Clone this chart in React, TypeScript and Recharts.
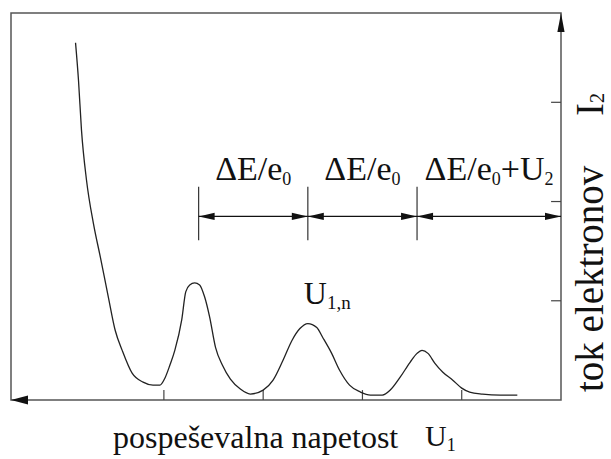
import { LineChart, Line, XAxis, YAxis, ReferenceLine, ReferenceDot, ReferenceArea } from 'recharts';

// accelerating voltage U1 (axis grows to the left) and electron current I2, arbitrary units
const U1 = [0.44, 0.61, 0.79, 0.92, 1.0, 1.09, 1.19, 1.27, 1.34, 1.4, 1.45, 1.52, 1.62, 1.72, 1.8, 1.92,
  2.02, 2.13, 2.23, 2.31, 2.4, 2.46, 2.55, 2.63, 2.71, 2.8, 2.9, 3.0, 3.13, 3.23, 3.33, 3.41,
  3.48, 3.54, 3.59, 3.64, 3.69, 3.74, 3.78, 3.82, 3.89, 3.94, 3.99, 4.04, 4.11, 4.21, 4.32,
  4.42, 4.49, 4.56, 4.64, 4.71, 4.78, 4.83, 4.86, 4.89];
const I2 = [0.05, 0.05, 0.06, 0.08, 0.12, 0.2, 0.28, 0.37, 0.47, 0.5, 0.47, 0.38, 0.23, 0.1, 0.05, 0.05,
  0.08, 0.15, 0.3, 0.47, 0.63, 0.73, 0.77, 0.72, 0.6, 0.4, 0.2, 0.1, 0.06, 0.11, 0.21, 0.35,
  0.53, 0.84, 1.04, 1.16, 1.18, 1.16, 1.09, 0.81, 0.5, 0.35, 0.22, 0.15, 0.15, 0.18, 0.27,
  0.5, 0.7, 1.04, 1.44, 1.78, 2.22, 2.72, 3.22, 3.6];

const data = U1.map((u, i) => ({ u, i2: I2[i] }));

const U1_TICKS = [1, 2, 3, 4];
const I2_TICKS = [1, 2, 3];
const U1_MAX = 5.54;
const I2_MAX = 3.9;
const TICK_LEN = 0.1;

// spacing markers between the maxima
const STEP_MARKS = [3.65, 2.55, 1.45, 0];
const STEP_Y = 1.85;
const STEP_TOP = 2.15;
const STEP_BOTTOM = 1.61;
const STEP_LABELS: string[][] = [
  ['ΔE/e', '0'],
  ['ΔE/e', '0'],
  ['ΔE/e', '0', '+U', '2'],
];
const PEAK_LABEL = ['U', '1,n'];
const PEAK_AT = { u: 2.55, i2: 0.77 };
const X_TITLE = 'pospeševalna napetost';
const X_SYMBOL = ['U', '1'];
const Y_TITLE = 'tok elektronov';
const Y_SYMBOL = ['I', '2'];

const FONT = { fontFamily: 'Liberation Serif' };
const INK = '#111';

const Sub = ({ parts, size, subSize, shift = 5 }: { parts: string[]; size: number; subSize: number; shift?: number }) => (
  <>
    {parts.map((p, k) =>
      k % 2 === 0 ? (
        <tspan key={k} fontSize={size} dy={k === 0 ? 0 : -shift}>{p}</tspan>
      ) : (
        <tspan key={k} fontSize={subSize} dy={shift}>{p}</tspan>
      )
    )}
  </>
);

const arrowHead = (dir: 'left' | 'right' | 'up', len: number, half: number) => (p: any) => {
  const { cx, cy } = p;
  let pts = '';
  if (dir === 'left') pts = `${cx},${cy} ${cx + len},${cy - half} ${cx + len},${cy + half}`;
  if (dir === 'right') pts = `${cx},${cy} ${cx - len},${cy - half} ${cx - len},${cy + half}`;
  if (dir === 'up') pts = `${cx},${cy} ${cx - half},${cy + len} ${cx + half},${cy + len}`;
  return <polygon points={pts} fill={INK} />;
};

const stepLabel = (parts: string[]) => (p: any) => (
  <text x={p.cx} y={p.cy - 36} textAnchor="middle" style={FONT} fill={INK}>
    <Sub parts={parts} size={34} subSize={18} />
  </text>
);

const peakLabel = (p: any) => (
  <text x={p.cx - 4} y={p.cy - 20} style={FONT} fill={INK}>
    <Sub parts={PEAK_LABEL} size={32} subSize={19} />
  </text>
);

// anchored at the left end of the U1 axis
const xTitle = (p: any) => (
  <g fill={INK}>
    <text x={p.cx + 102} y={p.cy + 48} fontSize={32} style={FONT}>{X_TITLE}</text>
    <text x={p.cx + 414} y={p.cy + 46} style={FONT}>
      <Sub parts={X_SYMBOL} size={30} subSize={18} />
    </text>
  </g>
);

// anchored at the origin (bottom of the I2 axis)
const yTitle = (p: any) => (
  <g fill={INK} transform={`translate(${p.cx + 42} ${p.cy - 8}) rotate(-90)`}>
    <text x={0} y={0} fontSize={39} style={FONT}>{Y_TITLE}</text>
    <text x={276} y={0} style={FONT}>
      <Sub parts={Y_SYMBOL} size={39} subSize={20} shift={1} />
    </text>
  </g>
);

export default function App() {
  return (
    <div style={{ position: 'absolute', left: 0, top: 0 }}>
      <LineChart width={611} height={459} data={data} margin={{ top: 13, right: 50, bottom: 59, left: 11 }}>
        <XAxis
          dataKey="u"
          type="number"
          domain={[0, U1_MAX]}
          allowDataOverflow
          reversed
          ticks={U1_TICKS}
          tick={false}
          tickLine={false}
          height={0}
          axisLine={{ stroke: '#222', strokeWidth: 2.2 }}
        />
        <YAxis
          orientation="right"
          type="number"
          domain={[0, I2_MAX]}
          allowDataOverflow
          ticks={I2_TICKS}
          tick={false}
          tickLine={false}
          width={0}
          axisLine={{ stroke: '#222', strokeWidth: 2.2 }}
        />
        <ReferenceArea x1={0} x2={U1_MAX} y1={0} y2={I2_MAX} fill="none" stroke="#555" strokeWidth={1.5} />
        {U1_TICKS.map((t) => (
          <ReferenceLine key={'xt' + t} segment={[{ x: t, y: 0 }, { x: t, y: TICK_LEN }]} stroke="#444" strokeWidth={1.2} />
        ))}
        {I2_TICKS.map((t) => (
          <ReferenceLine key={'yt' + t} segment={[{ x: 0, y: t }, { x: TICK_LEN, y: t }]} stroke="#444" strokeWidth={1.2} />
        ))}
        <Line
          dataKey="i2"
          type="monotone"
          stroke="#222"
          strokeWidth={1.3}
          dot={false}
          isAnimationActive={false}
        />
        {STEP_MARKS.slice(0, 3).map((m) => (
          <ReferenceLine
            key={'v' + m}
            segment={[{ x: m, y: STEP_BOTTOM }, { x: m, y: STEP_TOP }]}
            stroke="#333"
            strokeWidth={1.2}
          />
        ))}
        {STEP_LABELS.map((parts, i) => {
          const a = STEP_MARKS[i];
          const b = STEP_MARKS[i + 1];
          return [
            <ReferenceLine
              key={'h' + i}
              segment={[{ x: a, y: STEP_Y }, { x: b, y: STEP_Y }]}
              stroke="#111"
              strokeWidth={1.3}
            />,
            <ReferenceDot key={'l' + i} x={a} y={STEP_Y} r={0} ifOverflow="visible" shape={arrowHead('left', 16, 3.6)} />,
            <ReferenceDot key={'r' + i} x={b} y={STEP_Y} r={0} ifOverflow="visible" shape={arrowHead('right', 16, 3.6)} />,
            <ReferenceDot key={'t' + i} x={(a + b) / 2} y={STEP_Y} r={0} ifOverflow="visible" shape={stepLabel(parts)} />,
          ];
        })}
        <ReferenceDot x={PEAK_AT.u} y={PEAK_AT.i2} r={0} ifOverflow="visible" shape={peakLabel} />
        <ReferenceDot x={U1_MAX} y={0} r={0} ifOverflow="visible" shape={arrowHead('left', 17, 4.5)} />
        <ReferenceDot x={0} y={I2_MAX} r={0} ifOverflow="visible" shape={arrowHead('up', 19, 3.6)} />
        <ReferenceDot x={U1_MAX} y={0} r={0} ifOverflow="visible" shape={xTitle} />
        <ReferenceDot x={0} y={0} r={0} ifOverflow="visible" shape={yTitle} />
      </LineChart>
    </div>
  );
}
